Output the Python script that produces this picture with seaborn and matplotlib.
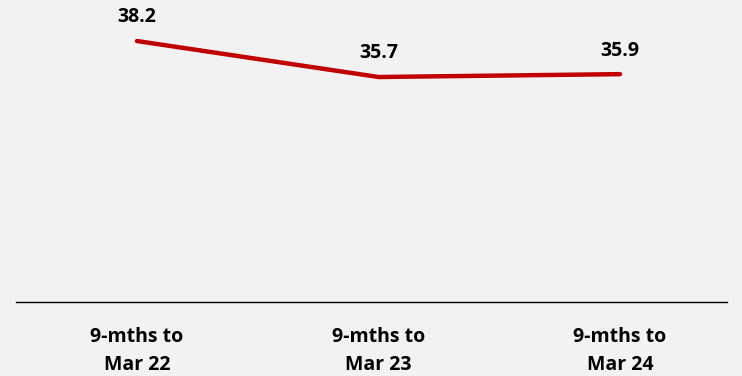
import matplotlib.pyplot as plt
import numpy as np
import pandas as pd
import seaborn as sns

periods = ["9-mths to\nMar 22", "9-mths to\nMar 23", "9-mths to\nMar 24"]
values = [38.2, 35.7, 35.9]

BG = "#f2f2f2"
RED = "#c00000"

sns.set_theme(style="white")
plt.rcParams["font.family"] = ["Open Sans", "DejaVu Sans"]

df = pd.DataFrame({"pos": np.arange(len(periods)), "value": values})

fig = plt.figure(figsize=(7.42, 3.76), dpi=100, facecolor=BG)
ax = fig.add_axes([16 / 742, 74 / 376, 711 / 742, 302 / 376])
ax.set_facecolor(BG)

sns.lineplot(data=df, x="pos", y="value", ax=ax, color=RED, linewidth=3.2,
             solid_capstyle="round")

for x, v in zip(df["pos"], df["value"]):
    ax.annotate(f"{v:.1f}", (x, v), xytext=(0, 17), textcoords="offset points",
                ha="center", va="center", fontsize=14, fontweight="bold",
                color="black")

ax.set_xlim(-0.501, 2.443)
ax.set_ylim(20.07, 41.05)
ax.set_xticks(df["pos"])
ax.set_xticklabels(periods, fontsize=14, fontweight="bold", linespacing=1.55,
                   color="black")
ax.set_yticks([])
ax.set_xlabel("")
ax.set_ylabel("")
ax.tick_params(axis="x", length=0, pad=18)
for side in ["top", "left", "right"]:
    ax.spines[side].set_visible(False)
ax.spines["bottom"].set_color("black")
ax.spines["bottom"].set_linewidth(1.0)

fig.savefig("out.png", dpi=100, facecolor=BG)
